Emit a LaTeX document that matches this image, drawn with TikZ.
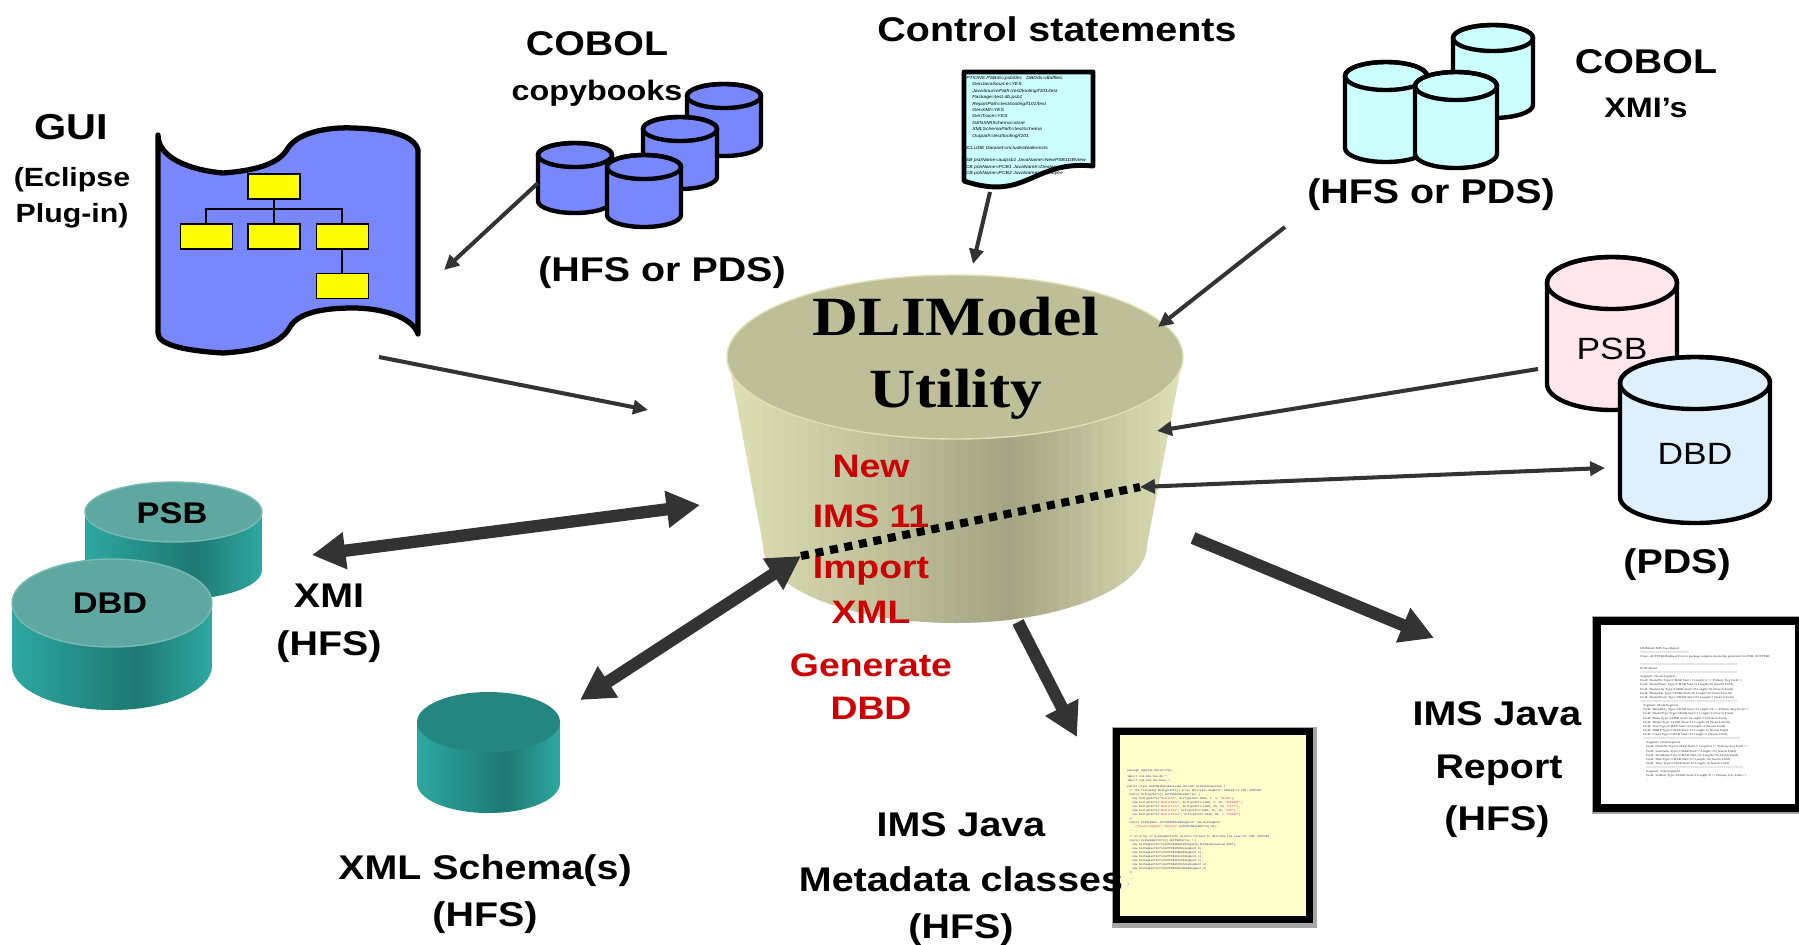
\documentclass[tikz,border=0pt]{standalone}
\usepackage{fontspec}
\setmainfont{Liberation Sans}[FakeStretch=1.15]
\newfontfamily\serifface{Liberation Serif}[FakeStretch=1.15]
\newfontfamily\monoface{Liberation Mono}
\usetikzlibrary{arrows.meta}

\definecolor{guiblue}{RGB}{120,136,252}
\definecolor{boxyellow}{RGB}{255,255,0}
\definecolor{xmicyan}{RGB}{204,255,255}
\definecolor{psbpink}{RGB}{255,230,236}
\definecolor{dbdblue}{RGB}{222,240,255}
\definecolor{arrowgray}{RGB}{51,51,51}
\definecolor{newred}{RGB}{204,0,0}
\definecolor{codepaper}{RGB}{255,255,204}
\definecolor{codeink}{RGB}{51,51,153}
\definecolor{codestr}{RGB}{204,51,153}
\definecolor{utiltop}{RGB}{190,190,152}
\definecolor{utiledge}{RGB}{224,224,182}
\definecolor{utilmid}{RGB}{164,164,132}
\definecolor{tealtop}{RGB}{95,168,162}
\definecolor{tealrim}{RGB}{120,186,180}
\definecolor{tealdark}{RGB}{36,134,128}
\definecolor{tealedge}{RGB}{44,168,160}
\definecolor{tealmid}{RGB}{29,120,114}

\tikzset{
  lbl/.style={font=\bfseries\fontsize{19.5}{23}\selectfont, inner sep=0pt},
  midlbl/.style={font=\bfseries\fontsize{16}{19}\selectfont, inner sep=0pt},
  smalllbl/.style={font=\bfseries\fontsize{15}{18}\selectfont, inner sep=0pt},
  redlbl/.style={text=newred, font=\bfseries\fontsize{18.5}{22}\selectfont, inner sep=0pt},
  utillbl/.style={font=\serifface\bfseries\fontsize{31.5}{36}\selectfont, inner sep=0pt},
  drumtext/.style={font=\fontsize{17.5}{21}\selectfont, inner sep=0pt},
  drumbold/.style={font=\bfseries\fontsize{17}{20}\selectfont, inner sep=0pt},
  guibox/.style={draw, line width=0.9pt, fill=boxyellow, minimum width=1.04cm, minimum height=0.5cm, inner sep=0pt},
  treeline/.style={line width=0.9pt},
  drumline/.style={line width=2.5pt},
  thinarrow/.style={draw=arrowgray, line width=2.3pt, >={Triangle[length=8.5pt, width=8pt]}},
  fatarrow/.style={draw=arrowgray, line width=7pt, >={Triangle[length=19pt, width=20pt]}},
  dotline/.style={line width=4.6pt, dash pattern=on 4.6pt off 3.8pt},
  ctltext/.style={font=\itshape\fontsize{2.5}{3.64}\selectfont, align=left, inner sep=0pt},
  reptext/.style={font=\serifface\fontsize{1.7}{2.35}\selectfont, align=left, inner sep=0pt, text=black!80},
  codetext/.style={font=\monoface\fontsize{1.6}{2.3}\selectfont, align=left, inner sep=0pt, text=codeink},
}

% vertical bands, light at the sides and dark a bit right of centre:
% left, right, top, bottom, side colour, dark colour
\newcommand{\bandfill}[6]{%
  \foreach \k in {0,...,39}{
    \pgfmathsetmacro\t{(\k+0.5)/40}
    \pgfmathtruncatemacro\w{100*(\t<0.62 ? 1-(0.62-\t)/0.62 : 1-(\t-0.62)/0.38)}
    \pgfmathsetmacro\xa{(#1)+((#2)-(#1))/40*\k}
    \pgfmathsetmacro\xb{(#1)+((#2)-(#1))/40*(\k+1)+1}
    \fill[#6!\w!#5] (\xa,#3) rectangle (\xb,#4);
  }
}
% drum with black outline: x, top y, x radius, y radius, height, fill
\newcommand{\outlinedrum}[6]{%
  \filldraw[fill=#6, drumline] ({#1-#3},#2) -- ({#1-#3},{#2+#5})
    arc[start angle=180, end angle=0, x radius=#3, y radius=#4]
    -- ({#1+#3},#2) arc[start angle=0, end angle=-180, x radius=#3, y radius=#4] -- cycle;
  \draw[drumline] (#1,#2) ellipse [x radius=#3, y radius=#4];
}
% banded teal drum: x, top y, x radius, y radius, height, top colour
\newcommand{\shadeddrum}[6]{%
  \begin{scope}
    \clip ({#1-#3},#2) -- ({#1-#3},{#2+#5})
      arc[start angle=180, end angle=0, x radius=#3, y radius=#4] -- ({#1+#3},#2) -- cycle;
    \bandfill{#1-#3}{#1+#3}{#2-1}{#2+#5+#4+1}{tealedge}{tealmid}
  \end{scope}
  \fill[#6] (#1,#2) ellipse [x radius=#3, y radius=#4];
}

\begin{document}
\begin{tikzpicture}[x=0.02cm, y=-0.02cm]
\useasboundingbox (0,0) rectangle (1799,944);

% GUI banner
\filldraw[fill=guiblue, line width=3pt, line join=round]
  (158,135) .. controls (158,158) and (190,170) .. (223,173)
  .. controls (262,170) and (280,162) .. (288,148)
  .. controls (300,130) and (335,127) .. (353,128)
  .. controls (385,129) and (414,134) .. (418,150)
  -- (418,334)
  .. controls (412,316) and (380,308) .. (353,308)
  .. controls (322,308) and (298,313) .. (290,327)
  .. controls (280,345) and (255,351) .. (223,353)
  .. controls (190,351) and (158,346) .. (158,333) -- cycle;
\draw[treeline] (274,186) -- (274,236);
\draw[treeline] (206,236) -- (206,209) -- (342,209) -- (342,286);
\node[guibox] (gui-top) at (274,186.5) {};
\node[guibox] (gui-a) at (206.5,236.5) {};
\node[guibox] (gui-b) at (274,236.5) {};
\node[guibox] (gui-c) at (342.5,236.5) {};
\node[guibox] (gui-d) at (342.5,286) {};

\node[lbl, font=\bfseries\fontsize{20.5}{24}\selectfont, anchor=base] (gui-lbl) at (71,139) {GUI};
\node[smalllbl, anchor=base] (gui-lbl2) at (72,186) {(Eclipse};
\node[smalllbl, anchor=base] (gui-lbl3) at (72,222) {Plug-in)};

% COBOL copybooks
\outlinedrum{724}{96}{37}{12}{48}{guiblue}
\outlinedrum{680}{129}{37}{12}{48}{guiblue}
\outlinedrum{575}{155}{37}{12}{46}{guiblue}
\outlinedrum{644}{167}{37}{12}{48}{guiblue}
\node[lbl, anchor=base] (copy-lbl) at (597,55) {COBOL};
\node[midlbl, anchor=base] (copy-lbl2) at (597,100) {copybooks};
\node[lbl, anchor=base] (copy-hfs) at (662,281) {(HFS or PDS)};

% control statements
\node[lbl, anchor=base] (ctl-lbl) at (1057,41) {Control statements};
\filldraw[fill=xmicyan, line width=2.8pt, line join=round]
  (964,72) -- (1093,72) -- (1093,166)
  .. controls (1032,160) and (1027,202) .. (964,181) -- cycle;
\node[ctltext, anchor=north west] (ctl-text) at (962,76) {%
OPTIONS PSBds=psbfiles\quad DBDds=dbdfiles\\
\hspace*{0.2cm}GenJavaSource=YES\\
\hspace*{0.2cm}JavaSourcePath=test/tooling/f101/test\\
\hspace*{0.2cm}Package=test.db.psb1\\
\hspace*{0.2cm}ReportPath=test/tooling/f101/test\\
\hspace*{0.2cm}GenXMI=YES\\
\hspace*{0.2cm}GenTrace=YES\\
\hspace*{0.2cm}GENXMISchema=store\\
\hspace*{0.2cm}XMLSchemaPath=test/schema\\
\hspace*{0.2cm}Outpath=test/tooling/f101\\[3.4pt]
INCLUDE Dataset=include/dealerincls\\[3.4pt]
PSB psbName=autpsb1 JavaName=NewPSB1DBView\\
PCB pcbName=PCB1 JavaName=Dealer\\
PCB pcbName=PCB2 JavaName=Employee};

% COBOL XMI's
\outlinedrum{1493}{38}{40}{13}{67}{xmicyan}
\outlinedrum{1386}{76}{41}{14}{72}{xmicyan}
\outlinedrum{1456}{86}{41}{14}{68}{xmicyan}
\node[lbl, anchor=base] (cob-lbl) at (1646,73) {COBOL};
\node[midlbl, anchor=base] (cob-lbl2) at (1646,117) {XMI's};
\node[lbl, anchor=base] (cob-hfs) at (1431,203) {(HFS or PDS)};

% DLIModel utility
\begin{scope}
  \clip (728,357) -- (763,545) arc[start angle=180, end angle=0, x radius=192, y radius=78]
    -- (1183,357) -- cycle;
  \bandfill{728}{1183}{350}{630}{utiledge}{utilmid}
\end{scope}
\fill[utiltop] (955,357) ellipse [x radius=228, y radius=82];
\draw[utiledge, line width=0.8pt] (955,357) ellipse [x radius=228, y radius=82];
\node[utillbl, anchor=base] (util-lbl) at (956,335) {DLIModel};
\node[utillbl, anchor=base] (util-lbl2) at (956,407) {Utility};
\foreach \txt/\yb [count=\i] in {New/477, IMS 11/527, Import/578, XML/623, Generate/676, DBD/719}
  \node[redlbl, anchor=base] (feat\i) at (871,\yb) {\txt};

% PSB and DBD libraries
\outlinedrum{1612}{283}{65}{26}{101}{psbpink}
\outlinedrum{1695}{383}{75}{26}{114}{dbdblue}
\node[drumtext] (psb-lbl) at (1612,349) {PSB};
\node[drumtext] (dbd-lbl) at (1695,454) {DBD};
\node[lbl, anchor=base] (pds-lbl) at (1677,573) {(PDS)};

% XMI drums
\shadeddrum{173.5}{512}{88.5}{30}{58}{tealtop}
\draw[tealrim, line width=0.8pt] (173.5,512) ellipse [x radius=88.5, y radius=30];
\shadeddrum{112}{603}{100}{44}{63}{tealtop}
\draw[tealrim, line width=0.8pt] (112,603) ellipse [x radius=100, y radius=44];
\node[drumbold] (xpsb-lbl) at (172,513) {PSB};
\node[drumbold] (xdbd-lbl) at (110,603) {DBD};
\node[lbl, anchor=base] (xmi-lbl) at (329,607) {XMI};
\node[lbl, anchor=base] (xmi-hfs) at (329,655) {(HFS)};

% XML schema drum
\shadeddrum{488.5}{722}{71.5}{30}{61}{tealdark}
\node[lbl, anchor=base] (xsd-lbl) at (485,879) {XML Schema(s)};
\node[lbl, anchor=base] (xsd-hfs) at (485,926) {(HFS)};

% generated java classes
\fill[black!35] (1112,727) rectangle (1317,928);
\filldraw[fill=codepaper, line width=4pt] (1116.5,731.5) rectangle (1309.5,919.5);
\node[codetext, anchor=north west] (code-text) at (1127,769) {%
package samples.dealership;\\[1pt]
import com.ibm.ims.db.*;\\
import com.ibm.ims.base.*;\\[1pt]
public class AUTPSB1DatabaseView extends DLIDatabaseView \{\\
\hspace*{0.04cm}// The following DLITypeInfo[] array describes Segment: DEALER in PCB: AUTPSB1\\
\hspace*{0.04cm}static DLITypeInfo[] AUTPSB1DEALERArray= \{\\
\hspace*{0.1cm}new DLITypeInfo(\textcolor{codestr}{"DealerNo"}, DLITypeInfo.CHAR, 1, 4, \textcolor{codestr}{"DLRNO"}),\\
\hspace*{0.1cm}new DLITypeInfo(\textcolor{codestr}{"DealerName"}, DLITypeInfo.CHAR, 5, 30, \textcolor{codestr}{"DLRNAME"}),\\
\hspace*{0.1cm}new DLITypeInfo(\textcolor{codestr}{"DealerCity"}, DLITypeInfo.CHAR, 35, 10, \textcolor{codestr}{"CITY"}),\\
\hspace*{0.1cm}new DLITypeInfo(\textcolor{codestr}{"DealerZip"}, DLITypeInfo.CHAR, 45, 10, \textcolor{codestr}{"ZIP"}),\\
\hspace*{0.1cm}new DLITypeInfo(\textcolor{codestr}{"DealerPhone"}, DLITypeInfo.CHAR, 55, 7, \textcolor{codestr}{"PHONE"})\\
\hspace*{0.04cm}\};\\
\hspace*{0.04cm}static DLISegment AUTPSB1DEALERSegment= new DLISegment\\
\hspace*{0.16cm}(\textcolor{codestr}{"DealerSegment"},\textcolor{codestr}{"DEALER"},AUTPSB1DEALERArray,61);\\
\hspace*{0.04cm}...\\[1pt]
\hspace*{0.04cm}// An array of DLISegmentInfo objects follows to describe the view for PCB: AUTPSB1\\
\hspace*{0.04cm}static DLISegmentInfo[] AUTPSB1array = \{\\
\hspace*{0.1cm}new DLISegmentInfo(AUTPSB1DEALERSegment,DLIDatabaseView.ROOT),\\
\hspace*{0.1cm}new DLISegmentInfo(AUTPSB1MODELSegment,0),\\
\hspace*{0.1cm}new DLISegmentInfo(AUTPSB1ORDERSegment,1),\\
\hspace*{0.1cm}new DLISegmentInfo(AUTPSB1SALESSegment,1),\\
\hspace*{0.1cm}new DLISegmentInfo(AUTPSB1STOCKSegment,1),\\
\hspace*{0.1cm}new DLISegmentInfo(AUTPSB1STOCSALESegment,4),\\
\hspace*{0.1cm}new DLISegmentInfo(AUTPSB1SALESPERSegment,0)\\
\hspace*{0.04cm}\};\\[1pt]
\hspace*{0.04cm}...\\[1pt]
\}};
\node[lbl, anchor=base] (meta-lbl) at (961,836) {IMS Java};
\node[lbl, anchor=base] (meta-lbl2) at (961,891) {Metadata classes};
\node[lbl, anchor=base] (meta-hfs) at (961,938) {(HFS)};

% java report
\fill[black!35] (1592,616) rectangle (1803,814);
\filldraw[fill=white, line width=4.6pt] (1597,621) rectangle (1799,808);
\node[reptext, anchor=north west] (rep-text) at (1640,647) {%
DLIModel IMS Java Report\\
=========================\\
Class: AUTPSB1DatabaseView in package samples.dealership generated for PSB: AUTPSB1\\[2pt]
==================================================\\
PCB: Dealer\\
==================================================\\
Segment: DealerSegment\\
Field: DealerNo Type=CHAR Start=1 Length=4 ++ Primary Key Field ++\\
Field: DealerName Type=CHAR Start=5 Length=30 (Search Field)\\
Field: DealerCity Type=CHAR Start=35 Length=10 (Search Field)\\
Field: DealerZip Type=CHAR Start=45 Length=10 (Search Field)\\
Field: DealerPhone Type=CHAR Start=55 Length=7 (Search Field)\\
==================================================\\
\hspace*{0.06cm}Segment: ModelSegment\\
\hspace*{0.06cm}Field: ModelKey Type=CHAR Start=1 Length=24 ++ Primary Key Field ++\\
\hspace*{0.06cm}Field: ModelType Type=CHAR Start=1 Length=2 (Search Field)\\
\hspace*{0.06cm}Field: Make Type=CHAR Start=3 Length=10 (Search Field)\\
\hspace*{0.06cm}Field: Model Type=CHAR Start=13 Length=10 (Search Field)\\
\hspace*{0.06cm}Field: Year Type=CHAR Start=23 Length=4 (Search Field)\\
\hspace*{0.06cm}Field: MSRP Type=CHAR Start=27 Length=5 (Search Field)\\
\hspace*{0.06cm}Field: Count Type=CHAR Start=32 Length=2 (Search Field)\\
\hspace*{0.06cm}==================================================\\
\hspace*{0.12cm}Segment: OrderSegment\\
\hspace*{0.12cm}Field: OrderNo Type=CHAR Start=1 Length=6 ++ Primary Key Field ++\\
\hspace*{0.12cm}Field: LastName Type=CHAR Start=7 Length=25 (Search Field)\\
\hspace*{0.12cm}Field: FirstName Type=CHAR Start=32 Length=25 (Search Field)\\
\hspace*{0.12cm}Field: Date Type=CHAR Start=57 Length=10 (Search Field)\\
\hspace*{0.12cm}Field: Time Type=CHAR Start=67 Length=4 (Search Field)\\
\hspace*{0.12cm}==================================================\\
\hspace*{0.12cm}Segment: SalesSegment\\
\hspace*{0.12cm}Field: SalDate Type=CHAR Start=1 Length=8 ++ Primary Key Field ++\\
\hspace*{0.12cm}...};
\node[lbl, anchor=base] (rep-lbl) at (1497,725) {IMS Java};
\node[lbl, anchor=base] (rep-lbl2) at (1499,778) {Report};
\node[lbl, anchor=base] (rep-hfs) at (1497,830) {(HFS)};

% connector end points
\coordinate (copy-out) at (538,183);
\coordinate (gui-in) at (444,270);
\coordinate (gui-out) at (379,357);
\coordinate (util-gui) at (648,410);
\coordinate (ctl-out) at (990,192);
\coordinate (util-ctl) at (973,264);
\coordinate (cob-out) at (1285,227);
\coordinate (util-cob) at (1158,327);
\coordinate (psb-out) at (1538,369);
\coordinate (util-psb) at (1157,431);
\coordinate (util-dbd) at (1140,487);
\coordinate (dbd-in) at (1605,468);
\coordinate (util-xml) at (801,556);
\coordinate (xmi-end) at (312,555);
\coordinate (util-xmi) at (700,505);
\coordinate (xsd-end) at (580,700);
\coordinate (util-meta) at (1018,622);
\coordinate (meta-in) at (1077,737);
\coordinate (util-rep) at (1193,538);
\coordinate (rep-in) at (1434,638);

% connectors
\draw[thinarrow, ->] (copy-out) -- (gui-in);
\draw[thinarrow, ->] (gui-out) -- (util-gui);
\draw[thinarrow, ->] (ctl-out) -- (util-ctl);
\draw[thinarrow, ->] (cob-out) -- (util-cob);
\draw[thinarrow, ->] (psb-out) -- (util-psb);
\draw[thinarrow, <->] (util-dbd) -- (dbd-in);
\draw[dotline] (util-xml) -- (util-dbd);
\draw[fatarrow, <->] (xmi-end) -- (util-xmi);
\draw[fatarrow, <->] (xsd-end) -- (util-xml);
\draw[fatarrow, ->] (util-meta) -- (meta-in);
\draw[fatarrow, ->] (util-rep) -- (rep-in);
\end{tikzpicture}
\end{document}
